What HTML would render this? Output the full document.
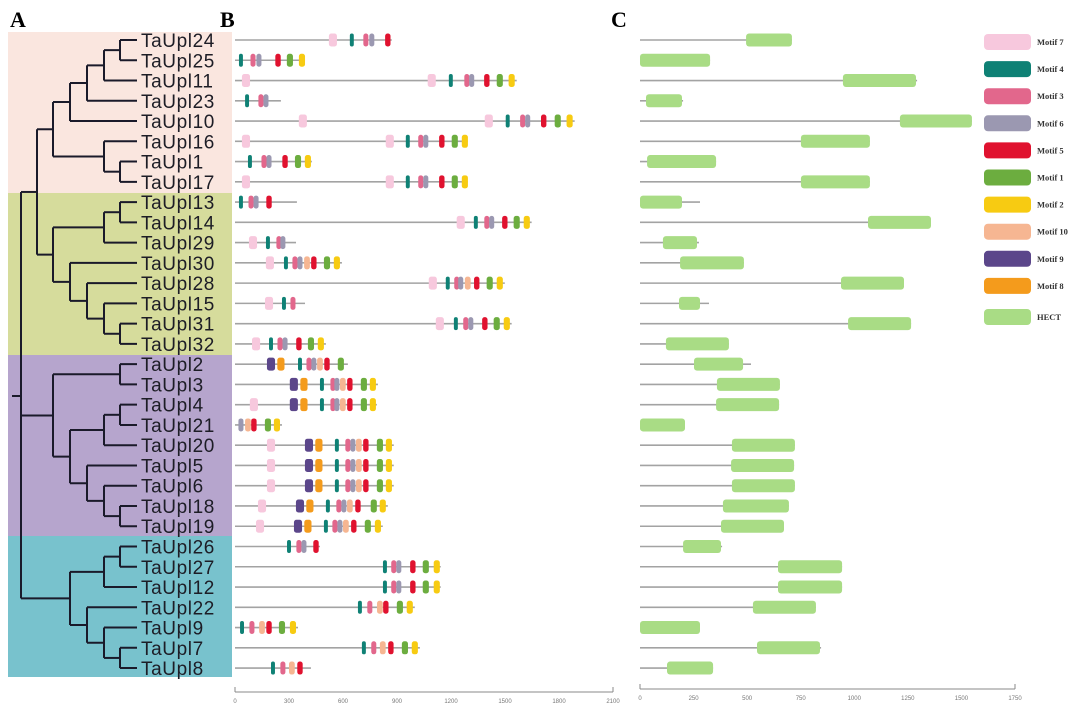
<!DOCTYPE html>
<html><head><meta charset="utf-8"><style>
html,body{margin:0;padding:0;background:#fff;}
svg{display:block;}
</style></head><body>
<svg id="fig" width="1080" height="707" viewBox="0 0 1080 707" xmlns="http://www.w3.org/2000/svg">
<g id="bands"></g><g id="tree"></g><g id="labels"></g><g id="panelB"></g><g id="panelC"></g><g id="legend"></g><g id="axes"></g>
<text x="10" y="27" font-family="Liberation Serif, serif" font-weight="bold" font-size="22">A</text>
<text x="220" y="27" font-family="Liberation Serif, serif" font-weight="bold" font-size="22">B</text>
<text x="611" y="27" font-family="Liberation Serif, serif" font-weight="bold" font-size="22">C</text>
</svg>
<script>
const genes=["TaUpl24","TaUpl25","TaUpl11","TaUpl23","TaUpl10","TaUpl16","TaUpl1","TaUpl17","TaUpl13","TaUpl14","TaUpl29","TaUpl30","TaUpl28","TaUpl15","TaUpl31","TaUpl32","TaUpl2","TaUpl3","TaUpl4","TaUpl21","TaUpl20","TaUpl5","TaUpl6","TaUpl18","TaUpl19","TaUpl26","TaUpl27","TaUpl12","TaUpl22","TaUpl9","TaUpl7","TaUpl8"];
const lengthsB=[871,389,1565,255,1887,1293,427,1293,344,1648,339,594,1499,389,1537,505,627,794,788,261,882,882,882,849,821,472,1143,1143,999,350,1027,422];
const motifs=[
[[7,544],[4,649],[3,727],[6,760],[5,849]],
[[4,33],[3,100],[6,133],[5,239],[1,305],[2,372]],
[[7,61],[7,1093],[4,1199],[3,1288],[6,1315],[5,1399],[1,1471],[2,1537]],
[[4,67],[3,144],[6,172]],
[[7,377],[7,1410],[4,1515],[3,1598],[6,1626],[5,1715],[1,1793],[2,1859]],
[[7,61],[7,860],[4,960],[3,1032],[6,1060],[5,1149],[1,1221],[2,1277]],
[[4,83],[3,161],[6,189],[5,278],[1,350],[2,405]],
[[7,61],[7,860],[4,960],[3,1032],[6,1060],[5,1149],[1,1221],[2,1277]],
[[4,33],[3,89],[6,117],[5,189]],
[[7,1254],[4,1338],[3,1399],[6,1426],[5,1499],[1,1565],[2,1621]],
[[7,100],[4,183],[3,244],[6,266]],
[[7,194],[4,283],[3,333],[6,361],[10,400],[5,438],[1,511],[2,566]],
[[7,1099],[4,1182],[3,1232],[6,1254],[10,1293],[5,1343],[1,1415],[2,1471]],
[[7,189],[4,272],[3,322]],
[[7,1138],[4,1227],[3,1282],[6,1310],[5,1388],[1,1454],[2,1510]],
[[7,117],[4,200],[3,250],[6,278],[5,355],[1,422],[2,477]],
[[9,200],[8,255],[4,361],[3,411],[6,438],[10,472],[5,511],[1,588]],
[[9,327],[8,383],[4,483],[3,544],[6,566],[10,599],[5,638],[1,716],[2,766]],
[[7,105],[9,327],[8,383],[4,483],[3,544],[6,566],[10,599],[5,638],[1,716],[2,766]],
[[6,33],[10,72],[5,105],[1,183],[2,233]],
[[7,200],[9,411],[8,466],[4,566],[3,627],[6,655],[10,688],[5,727],[1,805],[2,855]],
[[7,200],[9,411],[8,466],[4,566],[3,627],[6,655],[10,688],[5,727],[1,805],[2,855]],
[[7,200],[9,411],[8,466],[4,566],[3,627],[6,655],[10,688],[5,727],[1,805],[2,855]],
[[7,150],[9,361],[8,416],[4,516],[3,577],[6,605],[10,638],[5,683],[1,771],[2,821]],
[[7,139],[9,350],[8,405],[4,505],[3,555],[6,583],[10,616],[5,660],[1,738],[2,794]],
[[4,300],[3,355],[6,383],[5,450]],
[[4,833],[3,882],[6,910],[5,988],[1,1060],[2,1121]],
[[4,833],[3,882],[6,910],[5,988],[1,1060],[2,1121]],
[[4,694],[3,749],[10,805],[5,838],[1,916],[2,971]],
[[4,39],[3,94],[10,150],[5,189],[1,261],[2,322]],
[[4,716],[3,771],[10,821],[5,866],[1,944],[2,999]],
[[4,211],[3,266],[10,316],[5,361]]
];
const lengthsC=[709,327,1293,201,1549,1073,355,1073,280,1358,275,485,1232,322,1265,415,518,653,649,210,723,719,723,695,672,383,943,943,821,280,845,341];
const hectStart=[495,0,947,28,1213,751,33,751,0,1064,107,187,938,182,971,121,252,359,355,0,429,425,429,387,378,201,644,644,527,0,546,126];
const hectEnd=[709,327,1288,196,1549,1073,355,1073,196,1358,266,485,1232,280,1265,415,481,653,649,210,723,719,723,695,672,378,943,943,821,280,840,341];
const ticksB=[0,300,600,900,1200,1500,1800,2100];
const ticksC=[0,250,500,750,1000,1250,1500,1750];
const legendOrder=[7,4,3,6,5,1,2,10,9,8];
const legendNames=["Motif 7","Motif 4","Motif 3","Motif 6","Motif 5","Motif 1","Motif 2","Motif 10","Motif 9","Motif 8"];

const NS="http://www.w3.org/2000/svg";
const colors={7:"#f7c8dd",4:"#0f8175",3:"#e2678c",6:"#9b98b1",5:"#e0122f",1:"#6cad3f",2:"#f7cb12",10:"#f6b692",9:"#5b468a",8:"#f49b1c"};
const widths={7:45,4:22,3:28,6:28,5:30,1:34,2:34,10:32,9:45,8:40};
const rowY=i=>40+i*20.26;
const xB=v=>235+v*(378/2100);
const xC=v=>640+v*(375/1750);
function mk(tag,attrs,parent){const e=document.createElementNS(NS,tag);for(const k in attrs)e.setAttribute(k,attrs[k]);parent.appendChild(e);return e;}

// bands
const bands=document.getElementById('bands');
[[32,193,"#fae6df","clade-band-pink"],[193,355,"#d6dc9c","clade-band-olive"],[355,536,"#b6a5cd","clade-band-purple"],[536,677,"#78c2cd","clade-band-blue"]].forEach(b=>{
  const r=mk('rect',{x:8,y:b[0],width:224,height:b[1]-b[0],fill:b[2]},bands);
  
  
});

// tree
const tree=document.getElementById('tree');
const T=[21,
 [37,[53,[70,[87,[104,[120,"TaUpl24","TaUpl25"],"TaUpl11"],"TaUpl23"],"TaUpl10"],[104,"TaUpl16",[120,"TaUpl1","TaUpl17"]]],
     [53,[104,[120,"TaUpl13","TaUpl14"],"TaUpl29"],[70,"TaUpl30",[87,"TaUpl28",[104,"TaUpl15",[120,"TaUpl31","TaUpl32"]]]]]],
 [53,[120,"TaUpl2","TaUpl3"],[70,[104,[120,"TaUpl4","TaUpl21"],"TaUpl20"],[87,"TaUpl5",[104,"TaUpl6",[120,"TaUpl18","TaUpl19"]]]]],
 [70,[104,[120,"TaUpl26","TaUpl27"],"TaUpl12"],[87,"TaUpl22",[104,"TaUpl9",[120,"TaUpl7","TaUpl8"]]]]
];
const st={stroke:"#1a1a2a","stroke-width":2,fill:"none"};
function line(x1,y1,x2,y2){const l=mk('line',Object.assign({x1,y1,x2,y2},st),tree);}
function draw(n){
  if(typeof n==="string") return {y:rowY(genes.indexOf(n)),x:137};
  const x=n[0];const ys=[];
  for(let i=1;i<n.length;i++){const c=draw(n[i]);line(x,c.y,c.x,c.y);ys.push(c.y);}
  line(x,ys[0],x,ys[ys.length-1]);
  const y=(n===T)?396:(ys[0]+ys[ys.length-1])/2;
  return {x,y};
}
const rootInfo=draw(T);
line(12,396,21,396);

// labels
const labels=document.getElementById('labels');
genes.forEach((g,i)=>{
  const t=mk('text',{x:141,y:rowY(i)+7,"font-family":"Liberation Sans, sans-serif","font-size":19,"letter-spacing":"0.6",fill:"#1d1d26"},labels);
  t.textContent=g;
  
  
});

// panel B
const pB=document.getElementById('panelB');
genes.forEach((g,i)=>{
  const y=rowY(i);
  const l=mk('line',{x1:xB(0),y1:y,x2:xB(lengthsB[i]),y2:y,stroke:"#a3a3a3","stroke-width":1.6},pB);
  
  
  motifs[i].forEach(m=>{
    const w=widths[m[0]]*(378/2100);
    const r=mk('rect',{x:xB(m[1])-w/2,y:y-6.5,width:w,height:13,rx:Math.min(2.5,w/2),fill:colors[m[0]]},pB);
    
    
  });
});

// panel C
const pC=document.getElementById('panelC');
genes.forEach((g,i)=>{
  const y=rowY(i);
  const l=mk('line',{x1:xC(0),y1:y,x2:xC(lengthsC[i]),y2:y,stroke:"#a3a3a3","stroke-width":1.6},pC);
  
  
  const r=mk('rect',{x:xC(hectStart[i]),y:y-6.5,width:xC(hectEnd[i])-xC(hectStart[i]),height:13,rx:3,fill:"#a9dc85"},pC);
  
  
});

// legend
const lg=document.getElementById('legend');
legendOrder.forEach((m,i)=>{
  const y=42+i*27.1;
  const r=mk('rect',{x:984,y:y-8,width:47,height:16,rx:4,fill:colors[m]},lg);
  
  
  const t=mk('text',{x:1037,y:y+3,"font-family":"Liberation Serif, serif","font-weight":"bold","font-size":8.5,fill:"#333"},lg);
  t.textContent=legendNames[i];
  
  
});
{
  const r=mk('rect',{x:984,y:309,width:47,height:16,rx:4,fill:"#a9dc85"},lg);
  
  
  const t=mk('text',{x:1037,y:320,"font-family":"Liberation Serif, serif","font-weight":"bold","font-size":8.5,fill:"#333"},lg);
  t.textContent="HECT";
  
  
}

// axes
const ax=document.getElementById('axes');
function axis(fx,ticks,y,name){
  const l=mk('line',{x1:fx(ticks[0]),y1:y,x2:fx(ticks[ticks.length-1]),y2:y,stroke:"#888","stroke-width":1},ax);
  
  
  [ticks[0],ticks[ticks.length-1]].forEach(v=>{mk('line',{x1:fx(v),y1:y-5,x2:fx(v),y2:y,stroke:"#888","stroke-width":1},ax);});
  ticks.forEach(v=>{
    const t=mk('text',{x:fx(v),y:y+11,"text-anchor":"middle","font-family":"Liberation Sans, sans-serif","font-size":6,fill:"#777"},ax);
    t.textContent=v;
    
    
  });
}
axis(xB,ticksB,692,'axis-b');
axis(xC,ticksC,689,'axis-c');
</script>
</body></html>
